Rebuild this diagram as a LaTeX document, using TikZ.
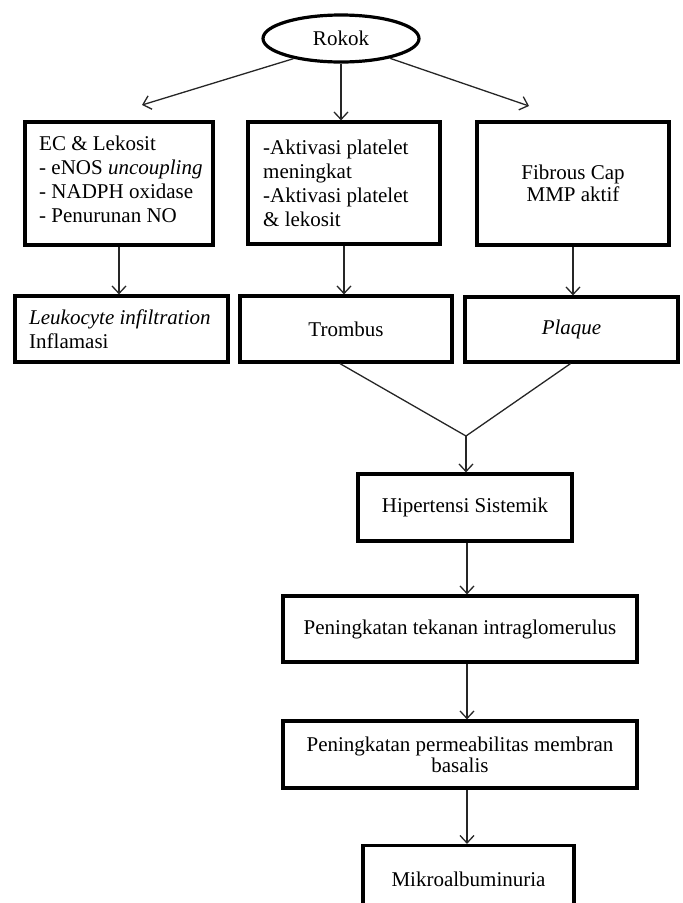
\documentclass[tikz,border=0pt]{standalone}
\usepackage{fontspec}
\setmainfont{Liberation Serif}
\usetikzlibrary{arrows.meta,shapes.geometric}
\begin{document}
\begin{tikzpicture}[x=1pt,y=-1pt,
  box/.style={draw=black,line width=3.2pt,rectangle,inner sep=0pt,
    font=\fontsize{21}{23.7}\selectfont,align=center},
  txt/.style={inner sep=0pt,font=\fontsize{21}{23.9}\selectfont,align=left},
  conn/.style={line width=1.3pt,draw=black!85},
  arr/.style={conn,-{Straight Barb[length=7.5pt,width=14pt,line width=1.3pt]}}]
\useasboundingbox (0,0) rectangle (683,903);
% ellipse
\node[ellipse,draw=black,line width=3.2pt,minimum width=156pt,minimum height=47pt,inner sep=0pt,
  font=\fontsize{21}{24}\selectfont] (rokok) at (341,38.5) {Rokok};
% row 1
\node[box,minimum width=188pt,minimum height=123pt] (b1) at (119,183.5) {};
\node[txt,anchor=north west] (t1) at (39,136) {EC \& Lekosit\\- eNOS \textit{uncoupling}\\- NADPH oxidase\\- Penurunan NO};
\node[box,minimum width=192pt,minimum height=122pt] (b2) at (344,183) {};
\node[txt,anchor=north west] (t2) at (263,140) {-Aktivasi platelet\\meningkat\\-Aktivasi platelet\\\& lekosit};
\node[box,minimum width=192pt,minimum height=123pt,font=\fontsize{21}{22.5}\selectfont] (b3) at (573,183.5) {Fibrous Cap\\MMP aktif};
% row 2
\node[box,minimum width=213pt,minimum height=66pt] (b4) at (121.5,329) {};
\node[txt,anchor=north west] (t4) at (29,310) {\textit{Leukocyte infiltration}\\Inflamasi};
\node[box,minimum width=212pt,minimum height=66pt] (b5) at (346,329) {Trombus};
\node[box,minimum width=213pt,minimum height=65pt] (b6) at (571.5,329.5) {\textit{Plaque}};
\coordinate (jn) at (466,436);
% lower chain
\node[box,minimum width=214pt,minimum height=67pt] (b7) at (465,507.5) {Hipertensi Sistemik};
\node[box,minimum width=354pt,minimum height=66pt] (b8) at (460,629) {Peningkatan tekanan intraglomerulus};
\node[box,minimum width=354pt,minimum height=67pt,font=\fontsize{21}{21}\selectfont] (b9) at (460,754.5) {Peningkatan permeabilitas membran\\basalis};
\node[box,minimum width=211pt,minimum height=67pt] (b10) at (468.5,879) {Mikroalbuminuria};
% free ends of the Rokok arrows
\coordinate (eL) at (142,105);
\coordinate (eR) at (529,106);
% connectors
\draw[arr] (rokok.203) -- (eL);
\draw[arr] (rokok.south) -- (rokok.south |- b2.north);
\draw[arr] (rokok.-22) -- (eR);
\draw[arr] (b1.south) -- (b1.south |- b4.north);
\draw[arr] (b2.south) -- (b2.south |- b5.north);
\draw[arr] (b3.south) -- (b3.south |- b6.north);
\draw[conn] ([xshift=-6pt]b5.south) -- (jn);
\draw[conn] ([xshift=-1pt]b6.south) -- (jn);
\draw[arr] (jn) -- (jn |- b7.north);
\draw[arr] ([xshift=2pt]b7.south) -- ([xshift=2pt]b7.south |- b8.north);
\draw[arr] ([xshift=2pt]b7.south |- b8.south) -- ([xshift=2pt]b7.south |- b9.north);
\draw[arr] ([xshift=2pt]b7.south |- b9.south) -- ([xshift=2pt]b7.south |- b10.north);
\end{tikzpicture}
\end{document}
